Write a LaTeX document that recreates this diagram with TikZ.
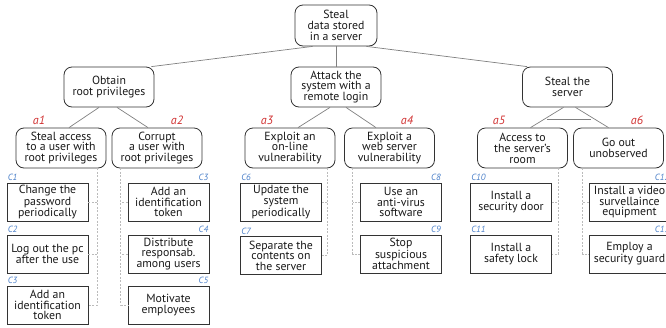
\documentclass[tikz,border=0pt]{standalone}
\usepackage{fontspec}
\setmainfont{PT Sans}
\usetikzlibrary{calc}
\definecolor{edge}{HTML}{808080}
\definecolor{dashc}{HTML}{BBBBBB}
\definecolor{lblred}{HTML}{D03030}
\definecolor{lblblue}{HTML}{4A7FC8}
\definecolor{boxline}{HTML}{333333}
\tikzset{
  goal/.style={draw=boxline, line width=0.8pt, rounded corners=8pt, align=center,
    inner sep=0pt, text=black!90, font=\fontsize{11.8}{10.9}\selectfont,
    minimum width=90pt, minimum height=40pt},
  leaf/.style={draw=boxline, line width=0.8pt, align=center, inner sep=0pt,
    text=black!90, font=\fontsize{11.8}{10.4}\selectfont,
    minimum width=81pt, minimum height=38pt},
  tree/.style={draw=edge, line width=0.7pt},
  dashline/.style={draw=dashc, line width=0.6pt, dash pattern=on 2pt off 1.5pt},
  alab/.style={text=lblred, font=\fontsize{12}{12}\selectfont\itshape, inner sep=0pt},
  clab/.style={text=lblblue, font=\fontsize{9}{9}\selectfont\itshape, inner sep=0pt}
}
\begin{document}
\begin{tikzpicture}[x=1pt,y=-1pt]
\useasboundingbox (0,0) rectangle (666,327);
% root
\node[goal, minimum width=82pt, minimum height=41pt] (root) at (336,25.5) {Steal\\data stored\\in a server};
% level 1
\node[goal] (l1a) at (109,87) {Obtain\\root privileges};
\node[goal] (l1b) at (336,87) {Attack the\\system with a\\remote login};
\node[goal] (l1c) at (567.5,87) {Steal the\\server};
% level 2
\node[goal] (a1) at (61,148) {Steal access\\to a user with\\root privileges};
\node[goal] (a2) at (157,148) {Corrupt\\a user with\\root privileges};
\node[goal] (a3) at (290,148) {Exploit an\\on-line\\vulnerability};
\node[goal] (a4) at (389.5,148) {Exploit a\\web server\\vulnerability};
\node[goal] (a5) at (522.5,148) {Access to\\the server's\\room};
\node[goal] (a6) at (618.5,148) {Go out\\unobserved};
% attack labels
\node[alab] (la1) at (39,120) {a1};
\node[alab] (la2) at (177,120) {a2};
\node[alab] (la3) at (267,120) {a3};
\node[alab] (la4) at (407,120) {a4};
\node[alab] (la5) at (499,120) {a5};
\node[alab] (la6) at (637,120) {a6};
% countermeasures
\node[leaf] (c11) at (47.5,202) {Change the\\password\\periodically};
\node[leaf] (c12) at (47.5,254) {Log out the pc\\after the use};
\node[leaf] (c13) at (47.5,305) {Add an\\identification\\token};
\node[leaf] (c21) at (168.5,202) {Add an\\identification\\token};
\node[leaf] (c22) at (168.5,254) {Distribute\\responsab.\\among users};
\node[leaf] (c23) at (168.5,305) {Motivate\\employees};
\node[leaf] (c31) at (281,202) {Update the\\system\\periodically};
\node[leaf] (c32) at (281,255.5) {Separate the\\contents on\\the server};
\node[leaf] (c41) at (401,202) {Use an\\anti-virus\\software};
\node[leaf] (c42) at (401,254) {Stop\\suspicious\\attachment};
\node[leaf] (c51) at (511,202) {Install a\\security door};
\node[leaf] (c52) at (511,254) {Install a\\safety lock};
\node[leaf] (c61) at (629.5,202) {Install a video\\survellaince\\equipment};
\node[leaf] (c62) at (629.5,254) {Employ a\\security guard};
% countermeasure labels
\node[clab, anchor=south west] (k1) at ($(c11.north west)+(1,-1.5)$) {C1};
\node[clab, anchor=south west] (k2) at ($(c12.north west)+(1,-1.5)$) {C2};
\node[clab, anchor=south west] (k3) at ($(c13.north west)+(1,-1.5)$) {C3};
\node[clab, anchor=south east] (k3b) at ($(c21.north east)+(-1,-1.5)$) {C3};
\node[clab, anchor=south east] (k4) at ($(c22.north east)+(-1,-1.5)$) {C4};
\node[clab, anchor=south east] (k5) at ($(c23.north east)+(-1,-1.5)$) {C5};
\node[clab, anchor=south west] (k6) at ($(c31.north west)+(1,-1.5)$) {C6};
\node[clab, anchor=south west] (k7) at ($(c32.north west)+(1,-1.5)$) {C7};
\node[clab, anchor=south east] (k8) at ($(c41.north east)+(-1,-1.5)$) {C8};
\node[clab, anchor=south east] (k9) at ($(c42.north east)+(-1,-1.5)$) {C9};
\node[clab, anchor=south west] (k10) at ($(c51.north west)+(1,-1.5)$) {C10};
\node[clab, anchor=south west] (k11) at ($(c52.north west)+(1,-1.5)$) {C11};
\node[clab, anchor=south east] (k12) at ($(c61.north east)+(-1,-1.5)$) {C12};
\node[clab, anchor=south east] (k13) at ($(c62.north east)+(-1,-1.5)$) {C13};
% tree edges
\draw[tree] ($(root.south west)+(18,0)$) -- ($(l1a.north east)+(-3,0)$);
\draw[tree] (root.south) -- (l1b.north);
\draw[tree] ($(root.south east)+(-11,0)$) -- ($(l1c.north west)+(5,0)$);
\draw[tree] ($(l1a.south)+(-10,0)$) -- ($(a1.north)+(8,0)$);
\draw[tree] ($(l1a.south)+(8,0)$) -- ($(a2.north)+(-9,0)$);
\draw[tree] ($(l1b.south)+(-6,0)$) -- ($(a3.north)+(8,0)$);
\draw[tree] ($(l1b.south)+(10,0)$) -- ($(a4.north)+(-13.5,0)$);
\draw[tree] ($(l1c.south)+(-4,0)$) -- ($(a5.north)+(8,0)$);
\draw[tree] ($(l1c.south)+(8,0)$) -- ($(a6.north)+(-10,0)$);
\coordinate (andL) at (547,119);
\coordinate (andR) at (591,119);
\draw[draw=edge, line width=1pt] (andL) -- (andR);
% dashed countermeasure links
\coordinate (d1) at ($(a1.south east)+(-9,0)$);
\draw[dashline] (d1) |- (c13.east);
\draw[dashline] (c11.east) -- (c11.east -| d1);
\draw[dashline] (c12.east) -- (c12.east -| d1);
\coordinate (d2) at ($(a2.south west)+(9,0)$);
\draw[dashline] (d2) |- (c23.west);
\draw[dashline] (c21.west) -- (c21.west -| d2);
\draw[dashline] (c22.west) -- (c22.west -| d2);
\coordinate (d3) at ($(a3.south east)+(-8,0)$);
\draw[dashline] (d3) |- (c32.east);
\draw[dashline] (c31.east) -- (c31.east -| d3);
\coordinate (d4) at ($(a4.south west)+(8.5,0)$);
\draw[dashline] (d4) |- (c42.west);
\draw[dashline] (c41.west) -- (c41.west -| d4);
\coordinate (d5) at ($(a5.south east)+(-9.5,0)$);
\draw[dashline] (d5) |- (c52.east);
\draw[dashline] (c51.east) -- (c51.east -| d5);
\coordinate (d6) at ($(a6.south west)+(9.5,0)$);
\draw[dashline] (d6) |- (c62.west);
\draw[dashline] (c61.west) -- (c61.west -| d6);
\end{tikzpicture}
\end{document}
